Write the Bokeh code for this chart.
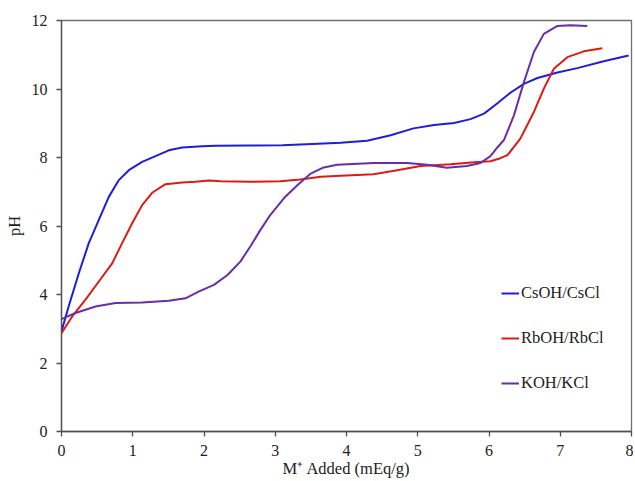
from bokeh.plotting import figure
from bokeh.models import Legend, LegendItem, Range1d, FixedTicker
from bokeh.embed import file_html
from bokeh.resources import INLINE

# CsOH/CsCl
cs_x = [0.0, 0.10, 0.243, 0.383, 0.524, 0.664, 0.805, 0.945, 1.132, 1.319, 1.506, 1.693, 1.975, 2.16,
        2.6, 3.1, 3.6, 3.92, 4.29, 4.62, 4.94, 5.23, 5.51, 5.74, 5.93, 6.11, 6.30, 6.49, 6.68, 6.96,
        7.24, 7.61, 7.96]
cs_y = [2.92, 3.65, 4.62, 5.50, 6.18, 6.85, 7.34, 7.63, 7.87, 8.04, 8.21, 8.29, 8.33, 8.34,
        8.35, 8.36, 8.40, 8.43, 8.49, 8.65, 8.85, 8.95, 9.01, 9.12, 9.28, 9.57, 9.89, 10.15, 10.32, 10.48,
        10.61, 10.81, 10.98]

# RbOH/RbCl
rb_x = [0.0, 0.150, 0.337, 0.524, 0.711, 0.851, 0.992, 1.132, 1.272, 1.46, 1.693, 1.88, 2.07, 2.23,
        2.65, 3.07, 3.35, 3.64, 3.92, 4.38, 4.71, 5.04, 5.46, 5.79, 6.02, 6.16, 6.26, 6.44, 6.63,
        6.77, 6.91, 7.10, 7.33, 7.59]
rb_y = [2.87, 3.36, 3.85, 4.38, 4.91, 5.50, 6.08, 6.61, 6.97, 7.22, 7.27, 7.29, 7.33, 7.31,
        7.29, 7.31, 7.36, 7.44, 7.47, 7.51, 7.63, 7.75, 7.80, 7.86, 7.89, 7.98, 8.07, 8.55, 9.33,
        10.01, 10.59, 10.93, 11.10, 11.19]

# KOH/KCl
k_x = [0.0, 0.196, 0.477, 0.758, 1.132, 1.506, 1.74, 1.93, 2.14, 2.33, 2.51, 2.65, 2.79, 2.93,
       3.12, 3.31, 3.49, 3.68, 3.87, 4.38, 4.85, 5.13, 5.41, 5.69, 5.88, 6.02, 6.12, 6.21, 6.35,
       6.49, 6.63, 6.77, 6.96, 7.14, 7.38]
k_y = [3.28, 3.46, 3.65, 3.75, 3.77, 3.82, 3.89, 4.09, 4.28, 4.57, 4.96, 5.40, 5.88, 6.32,
       6.81, 7.19, 7.52, 7.71, 7.79, 7.84, 7.84, 7.79, 7.70, 7.75, 7.84, 8.04, 8.30, 8.51, 9.23,
       10.20, 11.08, 11.61, 11.84, 11.86, 11.84]

series_names = ["CsOH/CsCl", "RbOH/RbCl", "KOH/KCl"]
colors = ["#1E1ED8", "#DC1C14", "#6A2DAA"]

x_ticks = [0, 1, 2, 3, 4, 5, 6, 7, 8]
y_ticks = [0, 2, 4, 6, 8, 10, 12]

FONT = "Liberation Serif"

p = figure(width=633, height=480, output_backend="svg", toolbar_location=None,
           x_range=Range1d(0, 8), y_range=Range1d(0, 12),
           min_border_left=61, min_border_right=2, min_border_top=20, min_border_bottom=48)

p.xgrid.visible = False
p.ygrid.visible = False
p.outline_line_color = "#707070"
p.outline_line_width = 1.3

renderers = []
for xs, ys, c in zip([cs_x, rb_x, k_x], [cs_y, rb_y, k_y], colors):
    r = p.line(xs, ys, line_color=c, line_width=2, line_join="round")
    renderers.append(r)

for ax in [p.xaxis[0], p.yaxis[0]]:
    ax.axis_line_color = "#505050"
    ax.axis_line_width = 1.3
    ax.major_tick_line_color = "#505050"
    ax.major_tick_line_width = 1.3
    ax.major_tick_out = 5
    ax.major_tick_in = 0
    ax.minor_tick_line_color = None
    ax.major_label_text_font = FONT
    ax.major_label_text_font_size = "16px"
    ax.major_label_text_color = "#222222"
    ax.axis_label_text_font = FONT
    ax.axis_label_text_font_size = "16.5px"
    ax.axis_label_text_font_style = "normal"
    ax.axis_label_text_color = "#222222"

p.xaxis.ticker = FixedTicker(ticks=x_ticks)
p.yaxis.ticker = FixedTicker(ticks=y_ticks)
p.xaxis.axis_label = "M\u207a Added (mEq/g)"
p.yaxis.axis_label = "pH"
p.xaxis.major_label_standoff = 8
p.xaxis.axis_label_standoff = 0
p.yaxis.major_label_standoff = 9
p.yaxis.axis_label_standoff = 5

legend = Legend(items=[LegendItem(label=n, renderers=[r]) for n, r in zip(series_names, renderers)],
                location=(440, 38), orientation="vertical",
                border_line_color=None, background_fill_alpha=0,
                label_text_font=FONT, label_text_font_size="16.5px", label_text_color="#222222",
                glyph_width=18, glyph_height=20, spacing=25, padding=0, margin=0,
                label_standoff=2)
p.add_layout(legend, "center")

open("out.html", "w").write(file_html(p, INLINE))
